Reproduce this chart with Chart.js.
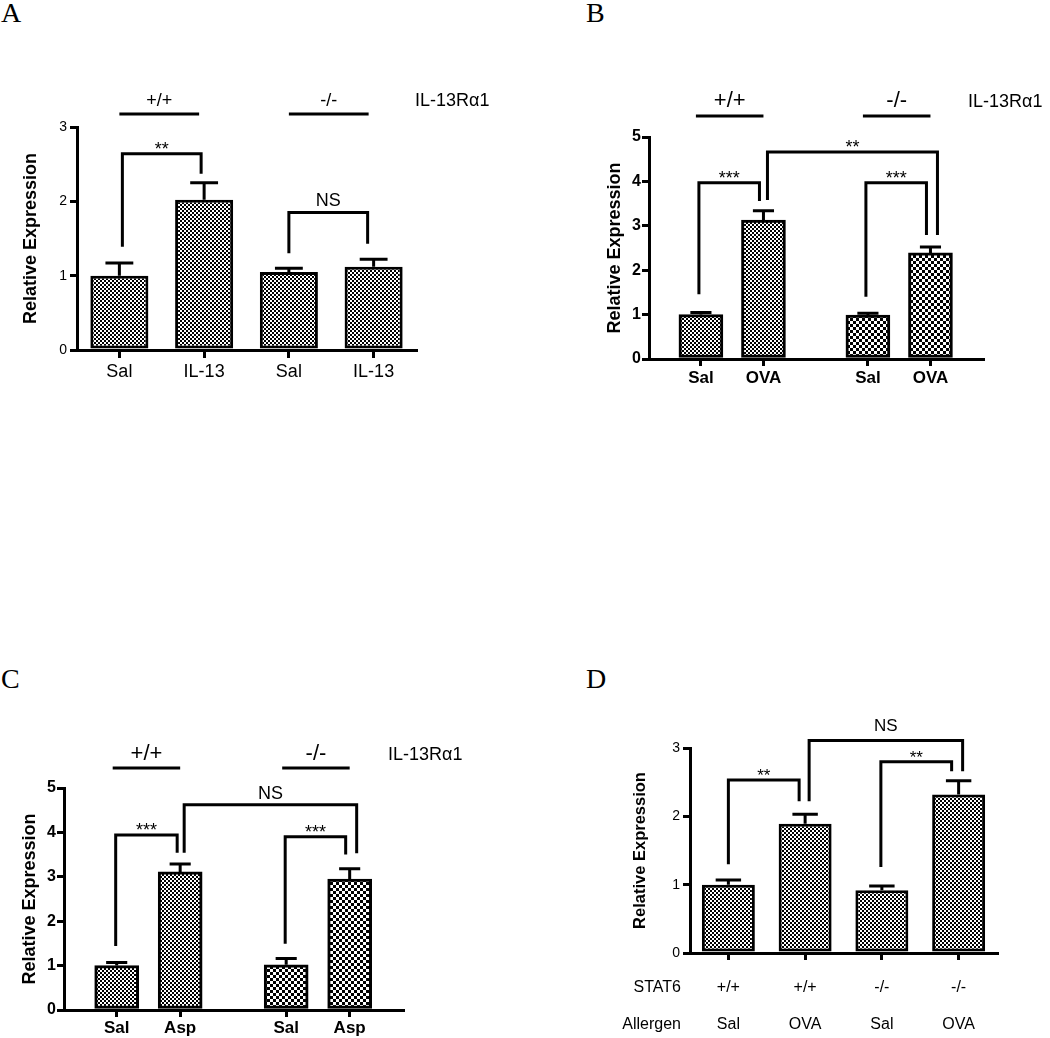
<!DOCTYPE html>
<html><head><meta charset="utf-8">
<script src="https://cdn.jsdelivr.net/npm/chart.js@4/dist/chart.umd.min.js"></script>
<style>
html,body{margin:0;padding:0;background:#fff}
body{width:1050px;height:1038px;position:relative;overflow:hidden}
canvas{position:absolute}
.letter{position:absolute;font-family:'Liberation Serif','Times New Roman',serif;font-size:28px;line-height:1;color:#000}
</style></head>
<body>
<div class="letter" style="left:1px;top:-1px">A</div>
<div class="letter" style="left:586px;top:-1px">B</div>
<div class="letter" style="left:1px;top:665px">C</div>
<div class="letter" style="left:586px;top:665px">D</div>
<canvas id="cA" width="525" height="420" style="left:0;top:0;width:525px;height:420px"></canvas>
<canvas id="cB" width="530" height="420" style="left:520px;top:0;width:530px;height:420px"></canvas>
<canvas id="cC" width="520" height="378" style="left:0;top:660px;width:520px;height:378px"></canvas>
<canvas id="cD" width="530" height="378" style="left:520px;top:660px;width:530px;height:378px"></canvas>
<script>
// ---------------- DATA ----------------
// Panel A
const catsA   = ['Sal', 'IL-13', 'Sal', 'IL-13'];
const valsA   = [1.00, 2.02, 1.05, 1.12];
const errA    = [0.17, 0.23, 0.05, 0.10];
const yMaxA   = 3;
const groupsA = ['+/+', '-/-'];
const fillsA  = ['fine', 'fine', 'fine', 'fine'];
// brackets: [fromBar, toBar, height, leftLegEnd, rightLegEnd, label]
const bracketsA = [[0, 1, 2.64, 1.39, 2.37, '**'], [2, 3, 1.85, 1.30, 1.43, 'NS']];

// Panel B
const catsB   = ['Sal', 'OVA', 'Sal', 'OVA'];
const valsB   = [1.00, 3.13, 0.99, 2.39];
const errB    = [0.05, 0.21, 0.04, 0.13];
const yMaxB   = 5;
const groupsB = ['+/+', '-/-'];
const fillsB  = ['fine', 'fine', 'coarse', 'coarse'];
const bracketsB = [[0, 1, 3.97, 1.46, 3.56, '***'], [1, 3, 4.66, 3.58, 2.79, '**'], [2, 3, 3.97, 1.40, 2.79, '***']];

// Panel C
const catsC   = ['Sal', 'Asp', 'Sal', 'Asp'];
const valsC   = [1.00, 3.11, 1.02, 2.95];
const errC    = [0.07, 0.18, 0.14, 0.23];
const yMaxC   = 5;
const groupsC = ['+/+', '-/-'];
const fillsC  = ['fine', 'fine', 'coarse', 'coarse'];
const bracketsC = [[0, 1, 3.94, 1.44, 3.54, '***'], [1, 3, 4.62, 3.54, 3.53, 'NS'], [2, 3, 3.90, 1.49, 3.50, '***']];

// Panel D
const stat6D    = ['+/+', '+/+', '-/-', '-/-'];
const allergenD = ['Sal', 'OVA', 'Sal', 'OVA'];
const valsD   = [1.00, 1.89, 0.92, 2.32];
const errD    = [0.07, 0.14, 0.06, 0.20];
const yMaxD   = 3;
const fillsD  = ['fine', 'fine', 'fine', 'fine'];
const bracketsD = [[0, 1, 2.53, 1.30, 2.22, '**'], [1, 3, 3.11, 2.22, 2.66, 'NS'], [2, 3, 2.80, 1.26, 2.66, '**']];

const factorLabel = 'IL-13R\u03b11';
const yTitle = 'Relative Expression';

// ---------------- STYLE / LAYOUT ----------------
const FF = "'Liberation Sans', Arial, Helvetica, sans-serif";
const xSlotsBC = [0.83, 1.83, 3.5, 4.5];   // bar slots on the gapped axis (B, C)

function makePattern(cell) {
  const c = document.createElement('canvas');
  c.width = c.height = cell * 2;
  const g = c.getContext('2d');
  g.fillStyle = '#fff'; g.fillRect(0, 0, cell * 2, cell * 2);
  g.fillStyle = '#000'; g.fillRect(0, 0, cell, cell); g.fillRect(cell, cell, cell, cell);
  return g.createPattern(c, 'repeat');
}
const PAT = { fine: makePattern(2), coarse: makePattern(3) };

function drawAnn(chart, P) {
  const ctx = chart.ctx, y = chart.scales.y, ca = chart.chartArea;
  const bars = chart.getDatasetMeta(0).data;
  ctx.save();
  ctx.strokeStyle = '#000'; ctx.fillStyle = '#000';
  ctx.lineWidth = 3; ctx.lineCap = 'butt'; ctx.lineJoin = 'miter';
  // error bars (upper)
  P.vals.forEach((v, i) => {
    const b = bars[i], x = b.x, half = b.width * 0.24;
    const top = y.getPixelForValue(v + P.errs[i]);
    ctx.beginPath();
    ctx.moveTo(x, b.y); ctx.lineTo(x, top);
    ctx.moveTo(x - half, top); ctx.lineTo(x + half, top);
    ctx.stroke();
  });
  // significance brackets
  P.brackets.forEach((br, k) => {
    const [a, bb, hv, la, lb, txt] = br;
    const dx = P.bracketDx[k];
    const xa = bars[a].x + dx[0], xb = bars[bb].x + dx[1];
    const py = y.getPixelForValue(hv);
    ctx.beginPath();
    ctx.moveTo(xa, y.getPixelForValue(la)); ctx.lineTo(xa, py);
    ctx.lineTo(xb, py); ctx.lineTo(xb, y.getPixelForValue(lb));
    ctx.stroke();
    const star = txt.indexOf('*') >= 0;
    ctx.font = (star ? P.starSize : P.nsSize) + 'px ' + FF;
    ctx.textAlign = 'center'; ctx.textBaseline = 'alphabetic';
    ctx.fillText(txt, (xa + xb) / 2, star ? py + 1 : py - P.nsGap);
  });
  // genotype header
  if (P.groups) {
    ctx.font = P.groupSize + 'px ' + FF;
    ctx.textAlign = 'center'; ctx.textBaseline = 'alphabetic';
    P.groups.forEach((g, k) => {
      const x1 = bars[2 * k].x + P.groupDx[0], x2 = bars[2 * k + 1].x + P.groupDx[1];
      const ly = ca.top - P.groupLineDy;
      ctx.beginPath(); ctx.moveTo(x1, ly); ctx.lineTo(x2, ly); ctx.stroke();
      ctx.fillText(g, (x1 + x2) / 2, ca.top - P.groupTextDy);
    });
    ctx.font = '18px ' + FF; ctx.textAlign = 'left';
    ctx.fillText(factorLabel, ca.right + P.factorDx, ca.top - P.groupTextDy);
  }
  // row titles (panel D)
  if (P.rowTitles) {
    ctx.font = P.xSize + 'px ' + FF; ctx.textAlign = 'right'; ctx.textBaseline = 'middle';
    P.rowTitles.forEach((t, i) => ctx.fillText(t, ca.left - P.rowTitleGap, ca.bottom + P.rowY[i]));
  }
  ctx.restore();
}

function buildPanel(id, P) {
  const linear = !!P.xSlots;
  const data = linear ? P.vals.map((v, i) => ({ x: P.xSlots[i], y: v })) : P.vals;
  const ds = { data, backgroundColor: P.fills.map(f => PAT[f]), borderColor: '#000', borderWidth: 3, borderSkipped: false };
  if (P.barThickness) ds.barThickness = P.barThickness;
  else { ds.barPercentage = P.barPct; ds.categoryPercentage = 1; }

  const gridX = { display: true, offset: false, drawOnChartArea: false, drawTicks: true, tickLength: P.xTickLen, tickWidth: 3, tickColor: '#000', color: '#000', lineWidth: 3 };
  const xTicks = { color: '#000', autoSkip: false, maxRotation: 0, minRotation: 0, padding: P.xPad,
                   font: { family: FF, size: P.xSize, weight: P.xWeight, lineHeight: P.xLineHeight || 1.2 } };
  let xScale;
  if (linear) {
    xScale = { type: 'linear', min: 0, max: P.xMax, offset: false, grid: gridX,
      border: { display: true, color: '#000', width: 3 },
      afterBuildTicks: s => { s.ticks = P.xSlots.map(v => ({ value: v })); },
      ticks: Object.assign({}, xTicks, { callback: (v, i) => P.labels[i] }),
      afterFit: s => { s.height = P.xHeight; } };
  } else {
    xScale = { type: 'category', offset: true, grid: gridX,
      border: { display: true, color: '#000', width: 3 },
      ticks: xTicks,
      afterFit: s => { s.height = P.xHeight; } };
  }
  const yScale = {
    min: 0, max: P.yMax,
    ticks: { stepSize: 1, color: '#000', padding: P.yPad, font: { family: FF, size: P.ySize, weight: P.yWeight } },
    grid: { display: true, drawOnChartArea: false, drawTicks: true, tickLength: 7, tickWidth: 3, tickColor: '#000', color: '#000', lineWidth: 3 },
    border: { display: true, color: '#000', width: 3 },
    title: { display: true, text: yTitle, color: '#000', font: { family: FF, size: P.titleSize, weight: 'bold' }, padding: { top: P.titlePad, bottom: 0 } },
    afterFit: s => { s.width = P.yWidth; }
  };
  new Chart(document.getElementById(id), {
    type: 'bar',
    data: { labels: linear ? undefined : P.labels, datasets: [ds] },
    options: {
      responsive: false, animation: false, devicePixelRatio: 1,
      layout: { padding: P.pad },
      plugins: { legend: { display: false }, tooltip: { enabled: false } },
      scales: { x: xScale, y: yScale }
    },
    plugins: [{ id: 'ann_' + id, afterDraw: c => drawAnn(c, P) }]
  });
}

buildPanel('cA', {
  labels: catsA, vals: valsA, errs: errA, yMax: yMaxA, fills: fillsA, brackets: bracketsA,
  bracketDx: [[3, -3], [0, -6]], groups: groupsA, groupDx: [0, -5], groupLineDy: 13, groupTextDy: 21, groupSize: 18, factorDx: -1,
  starSize: 18, nsSize: 18, nsGap: 6,
  barPct: 0.685, xTickLen: 8, xPad: 3, xSize: 18, xWeight: 'normal', xHeight: 70,
  ySize: 14, yWeight: 'normal', yPad: 3, titleSize: 18, titlePad: 20, yWidth: 77,
  pad: { left: 0, top: 127, right: 109, bottom: 0 }
});
buildPanel('cB', {
  labels: catsB, vals: valsB, errs: errB, yMax: yMaxB, fills: fillsB, brackets: bracketsB,
  bracketDx: [[-2, -4], [4, 7], [-2, -4]], groups: groupsB, groupDx: [-5, 0], groupLineDy: 21, groupTextDy: 30, groupSize: 22, factorDx: -15,
  starSize: 18, nsSize: 18, nsGap: 6,
  xSlots: xSlotsBC, xMax: 5.34, barThickness: 44, xTickLen: 7, xPad: 2, xSize: 17, xWeight: 'bold', xHeight: 61,
  ySize: 16, yWeight: 'bold', yPad: 1, titleSize: 18, titlePad: 84, yWidth: 129,
  pad: { left: 0, top: 137, right: 67, bottom: 0 }
});
buildPanel('cC', {
  labels: catsC, vals: valsC, errs: errC, yMax: yMaxC, fills: fillsC, brackets: bracketsC,
  bracketDx: [[-1, -3], [4, 7], [-1, -4]], groups: groupsC, groupDx: [-4, 0], groupLineDy: 20, groupTextDy: 28, groupSize: 22, factorDx: -15,
  starSize: 18, nsSize: 18, nsGap: 6,
  xSlots: xSlotsBC, xMax: 5.34, barThickness: 44, xTickLen: 7, xPad: 1, xSize: 17, xWeight: 'bold', xHeight: 28,
  ySize: 16, yWeight: 'bold', yPad: 1, titleSize: 18, titlePad: 19, yWidth: 64,
  pad: { left: 0, top: 128, right: 117, bottom: 0 }
});
buildPanel('cD', {
  labels: stat6D.map((s, i) => [s, allergenD[i]]), vals: valsD, errs: errD, yMax: yMaxD, fills: fillsD, brackets: bracketsD,
  bracketDx: [[0, -6], [4, 4], [-1, -7]],
  starSize: 17, nsSize: 17, nsGap: 9,
  rowTitles: ['STAT6', 'Allergen'], rowTitleGap: 9, rowY: [35, 72],
  barPct: 0.69, xTickLen: 7, xPad: 9.5, xSize: 16, xWeight: 'normal', xHeight: 85, xLineHeight: 37 / 16,
  ySize: 14, yWeight: 'normal', yPad: 3, titleSize: 16.5, titlePad: 111, yWidth: 170,
  pad: { left: 0, top: 88, right: 53, bottom: 0 }
});
</script>
</body></html>
